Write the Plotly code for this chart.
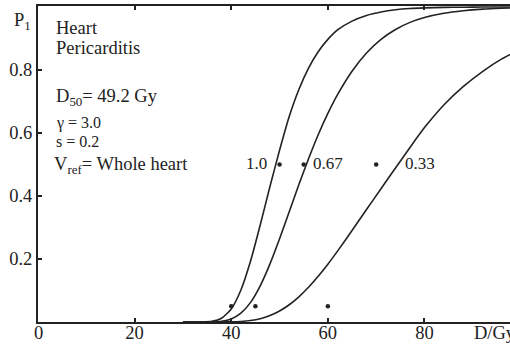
import plotly.graph_objects as go

# ---- data ----
dose = [30, 34, 36, 38, 40, 42, 44, 46, 48, 50, 52, 54, 56, 58, 60, 62, 65, 68,
        71, 74, 77, 80, 84, 88, 92, 96, 100]
p_v100 = [0.0, 0.0002, 0.0021, 0.0118, 0.0414, 0.1017, 0.1938, 0.3079, 0.4293,
          0.545, 0.652, 0.738, 0.806, 0.858, 0.897, 0.927, 0.955, 0.973, 0.984,
          0.991, 0.995, 0.997, 0.9985, 0.9992, 0.9996, 0.9998, 0.9999]
p_v067 = [0.0, 0.0, 0.0004, 0.0024, 0.0097, 0.0280, 0.0623, 0.1148, 0.1836,
          0.2640, 0.3499, 0.4361, 0.5183, 0.5945, 0.6620, 0.7215, 0.7960, 0.8540,
          0.8970, 0.9285, 0.9510, 0.9665, 0.9800, 0.9880, 0.9930, 0.9960, 0.9980]
p_v033 = [0.0, 0.0, 0.0, 0.0001, 0.0005, 0.0018, 0.0048, 0.0106, 0.0203, 0.0349,
          0.0547, 0.0800, 0.1103, 0.1451, 0.1836, 0.2250, 0.2902, 0.3571, 0.4231,
          0.4890, 0.5540, 0.6170, 0.6890, 0.7470, 0.7950, 0.8350, 0.8670]

pt_dose = [40, 45, 60, 50, 55, 70]
pt_prob = [0.05, 0.05, 0.05, 0.5, 0.5, 0.5]

curve_labels = ["1.0", "0.67", "0.33"]
x_ticks = [0, 20, 40, 60, 80]
y_ticks = [0.2, 0.4, 0.6, 0.8]

FONT = "Liberation Serif"
INK = "#222222"
FS = 18.5

fig = go.Figure()
for ys in (p_v100, p_v067, p_v033):
    fig.add_trace(go.Scatter(x=dose, y=ys, mode="lines",
                             line=dict(color=INK, width=1.6, shape="spline", smoothing=0.6),
                             hoverinfo="skip", showlegend=False))
fig.add_trace(go.Scatter(x=pt_dose, y=pt_prob, mode="markers",
                         marker=dict(color=INK, size=4.5), showlegend=False))

ann = []
def txt(x, y, t, xa="left", size=FS, xref="x", yref="y"):
    ann.append(dict(x=x, y=y, xref=xref, yref=yref, text=t, showarrow=False,
                    xanchor=xa, yanchor="middle",
                    font=dict(family=FONT, size=size, color=INK)))

txt(3.4, 0.932, "Heart")
txt(3.4, 0.870, "Pericarditis")
txt(3.4, 0.712, "D<sub>50</sub>= 49.2 Gy")
txt(3.4, 0.633, "γ = 3.0", size=16)
txt(3.4, 0.574, "s = 0.2", size=16)
txt(3.0, 0.497, "V<sub>ref</sub>= Whole heart")
txt(47.8, 0.502, curve_labels[0], xa="right", size=17)
txt(56.6, 0.502, curve_labels[1], size=17)
txt(75.6, 0.502, curve_labels[2], size=17)
txt(-0.055, 0.952, "P<sub>1</sub>", xa="left", xref="paper", yref="paper")
txt(0.92, -0.035, "D/Gy", xa="left", xref="paper", yref="paper")
txt(0, -0.035, str(x_ticks[0]), xa="center", yref="paper")

fig.update_layout(
    width=510, height=347,
    margin=dict(l=38, r=0, t=6, b=25),
    paper_bgcolor="white", plot_bgcolor="white",
    annotations=ann,
    font=dict(family=FONT, size=FS, color=INK),
    xaxis=dict(range=[0, 97.7], tickvals=x_ticks[1:], ticktext=[str(v) for v in x_ticks[1:]],
               showgrid=False, zeroline=False, showline=True, linecolor=INK, linewidth=2,
               mirror="ticks", ticks="inside", ticklen=4, tickwidth=1.5, tickcolor=INK,
               automargin=False, ticklabelstandoff=-7,
               tickfont=dict(family=FONT, size=FS, color=INK)),
    yaxis=dict(range=[0, 1.003], tickvals=y_ticks, ticktext=[str(v) for v in y_ticks],
               showgrid=False, zeroline=False, showline=True, linecolor=INK, linewidth=2,
               ticks="inside", ticklen=4, tickwidth=1.5, tickcolor=INK,
               automargin=False,
               tickfont=dict(family=FONT, size=FS, color=INK)),
)

fig.write_html("out.html")
